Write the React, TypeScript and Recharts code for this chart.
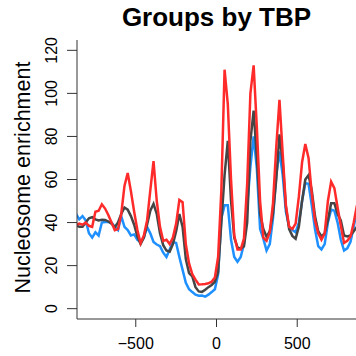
import { LineChart, Line, XAxis, YAxis } from "recharts";

// position relative to TSS (bp), one value every 20 bp
const positions = [
  -870, -850, -830, -810, -790, -770, -750, -730, -710, -690, -670, -650, -630, -610, -590, -570,
  -550, -530, -510, -490, -470, -450, -430, -410, -390, -370, -350, -330, -310, -290, -270, -250,
  -230, -210, -190, -170, -150, -130, -110, -90, -70, -50, -30, -10, 10, 30, 50, 70, 90, 110, 130,
  150, 170, 190, 210, 230, 250, 270, 290, 310, 330, 350, 370, 390, 410, 430, 450, 470, 490, 510,
  530, 550, 570, 590, 610, 630, 650, 670, 690, 710, 730, 750, 770, 790, 810, 830, 850, 870,
];

// red group
const tbpHigh = [
  38.8, 39.5, 39, 40, 38.5, 38, 45, 45.5, 48.5, 46.5, 43.5, 40, 36.5, 37, 44, 57,
  63, 54.5, 45, 36.5, 30.5, 34, 41, 55, 68.5, 50, 38, 31.5, 32, 30, 33, 39.5,
  50.5, 49.5, 30, 21, 16, 13.5, 11.2, 11.3, 11.5, 11.8, 12.5, 14.5, 24, 55, 111, 95, 60, 34, 27.5,
  27.5, 32.5, 58, 100, 113, 84, 50, 33, 31.5, 35.5, 49, 75, 97, 72, 48, 38, 37, 39.5, 52,
  68, 76.5, 70, 53.5, 41, 35, 32, 35, 50, 59, 56, 47, 38.5, 30.5, 31.5, 33.5, 40, 48,
];

// dark grey group
const tbpMid = [
  38.8, 38, 38, 40, 42, 42.5, 41.5, 41, 41.3, 41.2, 40.5, 39.5, 37.8, 40, 44, 47,
  46, 43, 39, 33.5, 30, 33, 39, 45.5, 48.7, 44, 35, 29.5, 27, 26.5, 30, 36,
  44, 38, 23, 16.5, 15, 10, 8, 7.8, 8.8, 10, 11, 12.5, 17, 40, 62, 78, 50, 33, 28.5,
  27.8, 29, 40, 78, 92, 70, 44, 37, 33.4, 36, 44, 60, 81, 68, 47, 37, 33.8, 32.5, 38,
  50, 60, 62, 55, 43, 36, 33.6, 35, 41, 49, 49, 44, 41, 34, 33.5, 34, 36, 38,
];

// blue group
const tbpLow = [
  44, 41.5, 43, 41, 35, 33, 35.5, 34, 40, 40.3, 40.3, 40, 38, 36.5, 43, 38,
  36.5, 34, 34.5, 32, 31, 33, 38, 35, 31, 29.8, 29, 26, 24, 27.5, 31, 30.5,
  24, 18, 12, 9, 7.7, 6.5, 6, 6.1, 5.6, 6.5, 7.7, 9, 16, 42, 48, 48, 32, 24, 21.8,
  24, 30, 47, 66, 80, 65, 37, 32.5, 27, 30, 42, 62, 73, 62, 45, 38, 36.5, 35.5, 40,
  50, 58.3, 58, 48, 37, 29, 27.5, 30, 40, 46, 45.5, 40, 32, 27, 28, 31, 38, 46,
];

const xTicks = [-500, 0, 500];
const yTicks = [0, 20, 40, 60, 80, 100, 120];

const FONT = "'Liberation Sans', Arial, Helvetica, sans-serif";
const AXIS = "#333333";

const data = positions.map((x, i) => ({
  x,
  high: tbpHigh[i],
  mid: tbpMid[i],
  low: tbpLow[i],
}));

const fmt = (v: number) => (v < 0 ? `\u2212${Math.abs(v)}` : `${v}`);

const XTick = (props: any) => {
  const { x, y, payload } = props;
  return (
    <text x={x} y={y + 20} textAnchor="middle" fontSize={16} fontFamily={FONT} fill="#000">
      {fmt(payload.value)}
    </text>
  );
};

const YTick = (props: any) => {
  const { x, y, payload } = props;
  const bx = x - 10;
  return (
    <text
      x={bx}
      y={y}
      transform={`rotate(-90, ${bx}, ${y})`}
      textAnchor="middle"
      fontSize={16}
      fontFamily={FONT}
      fill="#000"
    >
      {payload.value}
    </text>
  );
};

const YLabel = (props: any) => {
  const vb = props.viewBox || { x: 0, y: 40, width: 77, height: 279 };
  const lx = vb.x + 30;
  const ly = vb.y + vb.height / 2 - 2;
  return (
    <text
      x={lx}
      y={ly}
      transform={`rotate(-90, ${lx}, ${ly})`}
      textAnchor="middle"
      fontSize={21.5}
      fontFamily={FONT}
      fill="#000"
    >
      Nucleosome enrichment
    </text>
  );
};

export default function App() {
  return (
    <div style={{ position: "absolute", left: 0, top: 0, width: 356, height: 356, background: "#fff" }}>
      <div
        style={{
          position: "absolute",
          left: 77,
          width: 279,
          top: 2,
          textAlign: "center",
          fontFamily: FONT,
          fontWeight: "bold",
          fontSize: 26,
          lineHeight: "30px",
          color: "#000",
        }}
      >
        Groups by TBP
      </div>
      <LineChart width={356} height={356} data={data} margin={{ top: 40, right: 0, bottom: 0, left: 0 }}>
        <XAxis
          xAxisId="top"
          orientation="top"
          type="number"
          dataKey="x"
          domain={[-864, 864]}
          allowDataOverflow
          height={0}
          tick={false}
          tickLine={false}
          axisLine={{ stroke: AXIS, strokeWidth: 1 }}
        />
        <XAxis
          type="number"
          dataKey="x"
          domain={[-864, 864]}
          allowDataOverflow
          ticks={xTicks}
          height={37}
          tickSize={8}
          tickMargin={2}
          tick={<XTick />}
          tickLine={{ stroke: AXIS }}
          axisLine={{ stroke: AXIS, strokeWidth: 1 }}
        />
        <YAxis
          type="number"
          domain={[-4.8, 124.8]}
          allowDataOverflow
          ticks={yTicks}
          width={77}
          tickSize={10}
          tickMargin={0}
          tick={<YTick />}
          tickLine={{ stroke: AXIS }}
          axisLine={{ stroke: AXIS, strokeWidth: 1 }}
          label={{ content: <YLabel /> }}
        />
        <Line dataKey="low" stroke="#1E90FF" strokeWidth={2.5} dot={false} isAnimationActive={false} />
        <Line dataKey="mid" stroke="#454545" strokeWidth={2.5} dot={false} isAnimationActive={false} />
        <Line dataKey="high" stroke="#FF2B2B" strokeWidth={2.5} dot={false} isAnimationActive={false} />
      </LineChart>
    </div>
  );
}
